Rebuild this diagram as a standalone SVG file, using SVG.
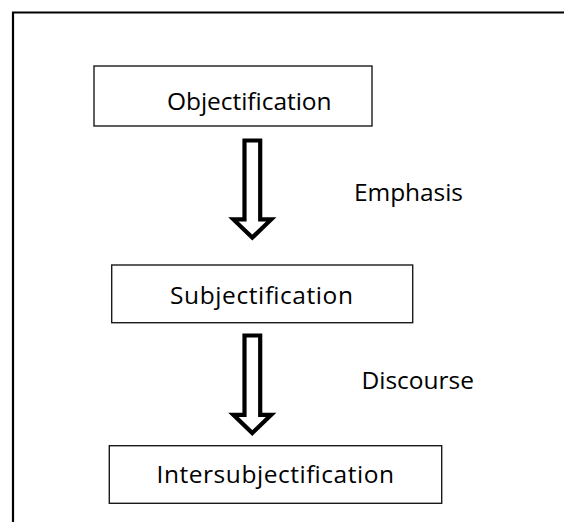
<svg xmlns="http://www.w3.org/2000/svg" width="564" height="522" viewBox="0 0 564 522">
<style>
.box{fill:#fff;stroke:#1a1a1a;stroke-width:1.4}
.lbl{font-family:"Open Sans","Noto Sans","Liberation Sans",sans-serif;font-size:24.5px;fill:#000}
.arrow{fill:#fff;stroke:#000;stroke-width:4.2;stroke-linejoin:miter;stroke-miterlimit:10}
</style>
<rect width="564" height="522" fill="#fff"/>
<path d="M13,522 V12.5 H564" fill="none" stroke="#000" stroke-width="2.2"/>
<g id="n1"><rect class="box" x="94" y="66" width="278" height="60"/><text class="lbl" x="167" y="110" textLength="164.5" lengthAdjust="spacing">Objectification</text></g>
<g id="n2"><rect class="box" x="111.7" y="265" width="301" height="57.7"/><text class="lbl" x="170" y="304" textLength="183" lengthAdjust="spacing">Subjectification</text></g>
<g id="n3"><rect class="box" x="109.3" y="445.7" width="332.4" height="57.6"/><text class="lbl" x="156.5" y="483" textLength="237.5" lengthAdjust="spacing">Intersubjectification</text></g>
<g id="connectors">
<path class="arrow" d="M244.5,140.5 H260.2 V219.4 H271.2 L252.3,237.6 L233.4,219.4 H244.5 Z"/>
<path class="arrow" d="M244.5,335.5 H260.2 V414.8 H271.2 L252.3,433 L233.4,414.8 H244.5 Z"/>
<text class="lbl" x="354" y="201" textLength="109" lengthAdjust="spacing">Emphasis</text>
<text class="lbl" x="361.5" y="389" textLength="112.5" lengthAdjust="spacing">Discourse</text>
</g>
</svg>
